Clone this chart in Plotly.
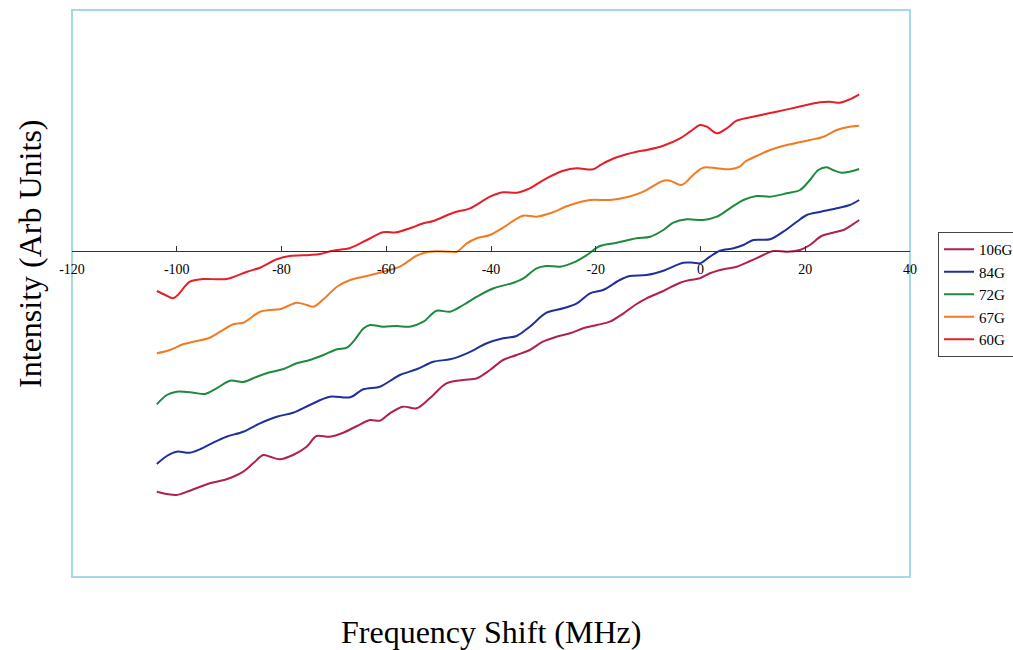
import plotly.graph_objects as go

# Frequency shift (MHz) and intensity (arb. units) for each field strength

x_60g = [-103.8, -102.2, -100.7, -99.8, -97.5, -95.0, -90.5, -86.6, -84.1, -80.9, -78.4, -74.6,
         -72.6, -70.2, -66.9, -63.7, -60.6, -58.0, -55.5, -52.9, -51.0, -47.2, -44.0, -40.2,
         -37.7, -35.1, -32.6, -29.4, -26.2, -23.6, -20.5, -18.9, -16.0, -12.2, -10.3, -7.1,
         -3.9, -2.0, -0.1, 1.2, 3.1, 5.0, 6.9, 10.7, 14.5, 18.4, 22.8, 24.7, 26.6, 28.5, 30.3]
y_60g = [-4.0, -4.4, -4.73, -4.4, -3.07, -2.8, -2.8, -2.07, -1.67, -0.83, -0.5, -0.4,
         -0.3, 0.03, 0.3, 1.1, 1.87, 1.87, 2.27, 2.77, 3.0, 3.83, 4.27, 5.43,
         5.87, 5.83, 6.27, 7.27, 8.03, 8.27, 8.17, 8.67, 9.37, 9.93, 10.1, 10.53,
         11.27, 11.93, 12.6, 12.43, 11.77, 12.27, 13.03, 13.5, 13.93, 14.37, 14.87, 14.93, 14.83, 15.17, 15.67]

x_67g = [-103.8, -101.3, -98.8, -96.8, -94.0, -91.7, -89.2, -87.3, -84.1, -82.2, -80.3, -77.1,
         -75.2, -73.9, -72.0, -69.4, -66.9, -63.7, -60.5, -57.4, -54.3, -51.8, -47.8, -46.5,
         -44.6, -42.7, -40.2, -37.7, -33.9, -31.3, -28.7, -24.9, -21.1, -17.3, -13.5, -10.9,
         -7.1, -5.8, -3.6, -1.4, 0.5, 3.1, 5.6, 7.5, 8.5, 10.7, 13.3, 17.1, 20.9, 23.5, 26.0, 28.5, 30.3]
y_67g = [-10.23, -9.9, -9.33, -9.07, -8.73, -8.07, -7.33, -7.17, -6.07, -5.9, -5.83, -5.17,
         -5.4, -5.57, -4.83, -3.57, -2.9, -2.5, -2.07, -1.57, -0.5, -0.07, -0.07, -0.07,
         0.77, 1.27, 1.6, 2.33, 3.53, 3.43, 3.77, 4.6, 5.1, 5.1, 5.45, 5.93,
         7.03, 7.03, 6.6, 7.6, 8.33, 8.27, 8.17, 8.43, 8.93, 9.5, 10.1, 10.67, 11.1, 11.43, 12.1, 12.43, 12.53]

x_72g = [-103.8, -101.9, -100.0, -96.8, -94.6, -92.4, -89.8, -87.3, -84.7, -82.2, -79.6, -77.1,
         -74.6, -72.0, -69.4, -67.5, -66.3, -64.3, -63.1, -60.6, -58.0, -55.5, -52.9, -50.4,
         -47.8, -45.3, -42.7, -39.5, -35.7, -33.8, -31.3, -29.4, -26.8, -24.3, -21.7, -19.2,
         -16.0, -12.2, -9.6, -7.1, -5.2, -2.6, 0.5, 3.1, 5.6, 8.2, 10.7, 13.3, 16.5, 19.0,
         20.9, 22.5, 24.1, 25.3, 26.9, 28.5, 30.3]
y_72g = [-15.33, -14.4, -14.07, -14.17, -14.3, -13.73, -12.97, -13.1, -12.57, -12.13, -11.8, -11.23,
         -10.9, -10.4, -9.83, -9.67, -9.07, -7.73, -7.4, -7.57, -7.5, -7.57, -7.07, -5.97,
         -6.07, -5.4, -4.57, -3.73, -3.17, -2.73, -1.73, -1.5, -1.57, -1.17, -0.4, 0.5,
         0.83, 1.27, 1.43, 2.1, 2.83, 3.17, 3.1, 3.43, 4.27, 5.1, 5.5, 5.43, 5.77, 6.1,
         7.1, 8.1, 8.37, 8.1, 7.83, 7.93, 8.2]

x_84g = [-103.8, -101.9, -100.0, -97.5, -95.6, -93.3, -90.5, -87.3, -84.1, -80.9, -77.8, -74.6,
         -70.8, -66.9, -64.4, -61.2, -59.3, -57.4, -54.2, -51.0, -47.8, -44.6, -40.8, -37.7,
         -35.1, -32.6, -29.4, -26.2, -23.6, -21.1, -18.6, -15.4, -13.5, -10.3, -7.1, -3.3,
         -1.4, -0.1, 1.8, 3.7, 6.3, 8.2, 10.1, 13.3, 15.8, 18.4, 20.3, 22.8, 26.0, 28.5, 30.3]
y_84g = [-21.3, -20.5, -20.07, -20.17, -19.83, -19.23, -18.57, -18.07, -17.23, -16.57, -16.17, -15.4,
         -14.57, -14.63, -13.83, -13.57, -13.0, -12.4, -11.83, -11.07, -10.83, -10.23, -9.23, -8.73,
         -8.5, -7.57, -6.17, -5.73, -5.23, -4.23, -3.9, -2.9, -2.5, -2.4, -1.97, -1.17,
         -1.17, -1.23, -0.57, 0.03, 0.27, 0.6, 1.1, 1.17, 1.93, 2.93, 3.6, 3.9, 4.27, 4.6, 5.1]

x_106g = [-103.8, -101.9, -100.0, -97.5, -93.7, -90.5, -87.3, -85.4, -83.5, -82.2, -80.3, -77.8,
          -75.2, -73.3, -70.8, -68.2, -65.6, -63.1, -61.2, -59.3, -56.8, -54.2, -51.7, -48.5,
          -45.3, -42.7, -40.2, -37.7, -35.1, -32.6, -30.1, -27.5, -24.9, -22.4, -19.8, -17.3,
          -14.7, -12.5, -10.3, -7.1, -3.9, -2.0, -0.1, 1.8, 4.4, 6.9, 9.5, 12.0, 13.9, 16.5,
          19.0, 20.9, 23.1, 25.3, 27.3, 28.9, 30.3]
y_106g = [-24.07, -24.3, -24.4, -23.97, -23.23, -22.83, -22.07, -21.23, -20.4, -20.57, -20.83, -20.4,
          -19.57, -18.5, -18.57, -18.17, -17.5, -16.9, -16.97, -16.23, -15.57, -15.73, -14.73, -13.23,
          -12.9, -12.73, -11.9, -10.9, -10.4, -9.9, -9.07, -8.57, -8.23, -7.73, -7.4, -7.07,
          -6.23, -5.4, -4.73, -4.0, -3.17, -2.9, -2.73, -2.23, -1.83, -1.57, -1.0, -0.4, 0.0, -0.07,
          0.1, 0.6, 1.5, 1.83, 2.1, 2.6, 3.1]

series = [
    ("106G", x_106g, y_106g, "#b0214c"),
    ("84G", x_84g, y_84g, "#1f2f9e"),
    ("72G", x_72g, y_72g, "#1e8a3c"),
    ("67G", x_67g, y_67g, "#f27b22"),
    ("60G", x_60g, y_60g, "#e61e28"),
]

tick_vals = [-120, -100, -80, -60, -40, -20, 0, 20, 40]
tick_text = ["-120", "-100", "-80", "-60", "-40", "-20", "0", "20", "40"]

serif = "Liberation Serif, Times New Roman, serif"

fig = go.Figure()
for name, xs, ys, color in series:
    fig.add_trace(go.Scatter(
        x=xs, y=ys, mode="lines", name=name,
        line=dict(color=color, width=2, shape="spline", smoothing=0.9),
    ))

y_lo, y_hi = -32.6, 24.1
zero_pos = (0 - y_lo) / (y_hi - y_lo)

fig.update_layout(
    width=1013, height=650,
    margin=dict(l=72, r=103, t=10, b=73, autoexpand=False),
    paper_bgcolor="white", plot_bgcolor="white",
    showlegend=True,
    legend=dict(
        xref="container", yref="container",
        x=938 / 1013, y=1 - 232 / 650, xanchor="left", yanchor="top",
        bordercolor="#444", borderwidth=1, bgcolor="white",
        font=dict(family=serif, size=15, color="black"),
        itemwidth=30, tracegroupgap=0,
    ),
    xaxis=dict(
        range=[-120, 40], anchor="free", position=zero_pos,
        tickvals=tick_vals, ticktext=tick_text,
        showline=True, linecolor="#333", linewidth=1.2,
        ticks="inside", ticklen=5, tickcolor="#333",
        showgrid=False, zeroline=False,
        tickfont=dict(family=serif, size=14, color="black"),
        ticklabelstandoff=5,
    ),
    yaxis=dict(
        range=[y_lo, y_hi], visible=False, showgrid=False, zeroline=False,
    ),
    shapes=[dict(
        type="rect", xref="paper", yref="paper", x0=0, x1=1, y0=0, y1=1,
        line=dict(color="#a6d9e2", width=2), layer="below",
    )],
    annotations=[
        dict(text="Frequency Shift (MHz)", xref="paper", yref="paper",
             x=0.5, y=-0.097, xanchor="center", yanchor="middle", showarrow=False,
             font=dict(family=serif, size=32, color="black")),
        dict(text="Intensity (Arb Units)", xref="paper", yref="paper",
             x=-0.05, y=0.57, xanchor="center", yanchor="middle", showarrow=False,
             textangle=-90, font=dict(family=serif, size=32, color="black")),
    ],
)

fig.write_html("out.html")
